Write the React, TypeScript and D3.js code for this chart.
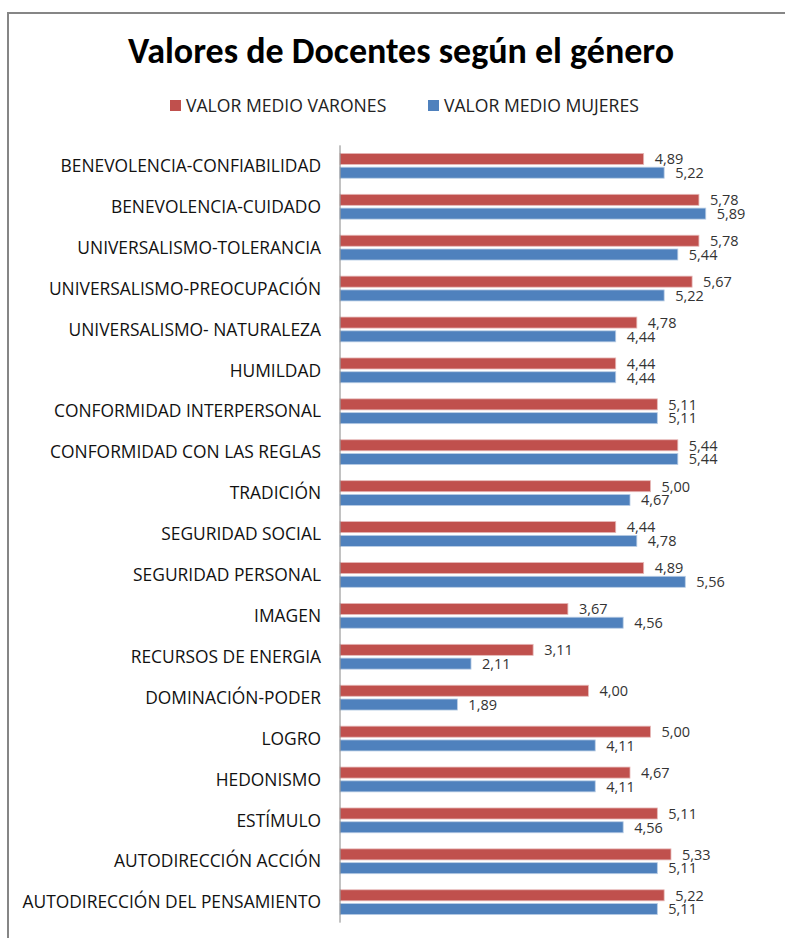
import * as d3 from "d3";
import React from "react";
import { useEffect, useRef } from "react";

const categories = [
    "BENEVOLENCIA-CONFIABILIDAD",
    "BENEVOLENCIA-CUIDADO",
    "UNIVERSALISMO-TOLERANCIA",
    "UNIVERSALISMO-PREOCUPACIÓN",
    "UNIVERSALISMO- NATURALEZA ",
    "HUMILDAD",
    "CONFORMIDAD INTERPERSONAL",
    "CONFORMIDAD CON LAS REGLAS",
    "TRADICIÓN",
    "SEGURIDAD SOCIAL",
    "SEGURIDAD PERSONAL",
    "IMAGEN",
    "RECURSOS DE ENERGIA",
    "DOMINACIÓN-PODER",
    "LOGRO",
    "HEDONISMO",
    "ESTÍMULO",
    "AUTODIRECCIÓN ACCIÓN",
    "AUTODIRECCIÓN DEL PENSAMIENTO",
];

const varones = [4.89, 5.78, 5.78, 5.67, 4.78, 4.44, 5.11, 5.44, 5.0, 4.44, 4.89, 3.67, 3.11, 4.0, 5.0, 4.67, 5.11, 5.33, 5.22];
const mujeres = [5.22, 5.89, 5.44, 5.22, 4.44, 4.44, 5.11, 5.44, 4.67, 4.78, 5.56, 4.56, 2.11, 1.89, 4.11, 4.11, 4.56, 5.11, 5.11];

const seriesNames = ["VALOR MEDIO VARONES", "VALOR MEDIO MUJERES"];
const seriesColors = ["#C0504D", "#4F81BD"];
const seriesStroke = ["#E6B9B8", "#B9CDE5"];

const TITLE_FONT = "Carlito, Calibri, Lato, sans-serif";
const FONT = "'Open Sans', sans-serif";

function drawChart(svgEl: SVGSVGElement) {
    const width = 785;
    const height = 938;
    const svg = d3.select(svgEl)
        .attr("width", width)
        .attr("height", height)
        .attr("viewBox", `0 0 ${width} ${height}`);

    svg.selectAll("*").remove();

    // chart area border (runs past the right and bottom edges)
    svg.append("rect")
        .attr("x", 8)
        .attr("y", 13)
        .attr("width", 800)
        .attr("height", 960)
        .attr("fill", "#fff")
        .attr("stroke", "#868686")
        .attr("stroke-width", 2);

    svg.append("text")
        .attr("x", 401)
        .attr("y", 63)
        .attr("text-anchor", "middle")
        .style("font-family", TITLE_FONT)
        .style("font-size", "36px")
        .style("font-weight", "bold")
        .attr("fill", "#000")
        .text("Valores de Docentes según el género");

    // legend
    const legendX = [170, 428];
    seriesNames.forEach((name, i) => {
        svg.append("rect")
            .attr("x", legendX[i])
            .attr("y", 100)
            .attr("width", 11)
            .attr("height", 11)
            .attr("fill", seriesColors[i]);
        svg.append("text")
            .attr("x", legendX[i] + 16)
            .attr("y", 111.5)
            .style("font-family", FONT)
            .style("font-size", "17.6px")
            .attr("fill", "#222")
            .text(name);
    });

    const x = d3.scaleLinear().domain([0, 7]).range([340, 774.7]);
    const y = d3.scaleBand<string>().domain(categories).range([145.35, 922.65]);
    const inner = d3.scaleBand<number>().domain([0, 1]).range([-12.4, 12.4]).paddingInner(0.2);

    const rows = categories.map((c, i) => ({ c, vals: [varones[i], mujeres[i]] }));

    const g = svg.append("g");
    const groups = g.selectAll(".row")
        .data(rows)
        .enter().append("g")
        .attr("class", "row")
        .attr("transform", (d) => `translate(0,${(y(d.c) || 0) + y.bandwidth() / 2})`);

    groups.selectAll("rect")
        .data((d) => d.vals.map((v, s) => ({ v, s })))
        .enter().append("rect")
        .attr("x", x(0))
        .attr("y", (d) => inner(d.s) || 0)
        .attr("width", (d) => x(d.v) - x(0))
        .attr("height", inner.bandwidth())
        .attr("fill", (d) => seriesColors[d.s])
        .attr("stroke", (d) => seriesStroke[d.s])
        .attr("stroke-width", 0.8);

    groups.selectAll(".val")
        .data((d) => d.vals.map((v, s) => ({ v, s })))
        .enter().append("text")
        .attr("class", "val")
        .attr("x", (d) => x(d.v) + 11)
        .attr("y", (d) => (inner(d.s) || 0) + inner.bandwidth() / 2 + 5.3)
        .style("font-family", FONT)
        .style("font-size", "14.5px")
        .attr("fill", "#333")
        .text((d) => d3.format(".2f")(d.v).replace(".", ","));

    groups.append("text")
        .attr("x", 321)
        .attr("y", 6.2)
        .attr("text-anchor", "end")
        .style("font-family", FONT)
        .style("font-size", "17.4px")
        .attr("fill", "#111")
        .text((d) => d.c);

    // category axis line
    svg.append("line")
        .attr("x1", x(0))
        .attr("x2", x(0))
        .attr("y1", 145.35)
        .attr("y2", 922.65)
        .attr("stroke", "#868686")
        .attr("stroke-width", 1);
}

export default function App() {
    const ref = useRef<SVGSVGElement>(null);
    useEffect(() => {
        if (ref.current) drawChart(ref.current);
    });
    return (
        <div style={{ position: "absolute", left: 0, top: 0, width: 785, height: 938, overflow: "hidden", background: "#fff" }}>
            <svg ref={ref} style={{ display: "block" }}></svg>
        </div>
    );
}
